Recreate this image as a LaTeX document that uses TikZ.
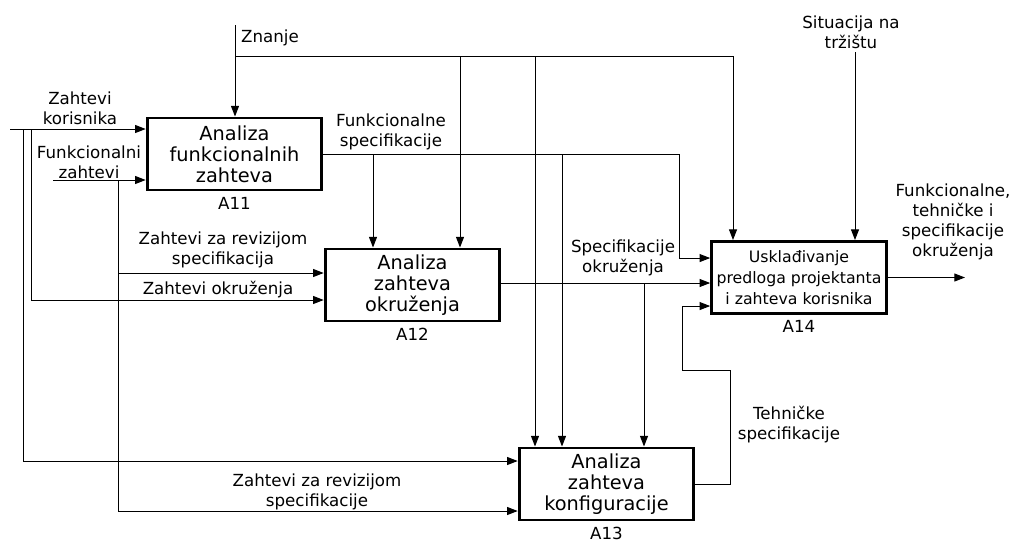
\documentclass[tikz,border=0pt]{standalone}
\usepackage{fontspec}
\setmainfont{DejaVu Sans}
\usepackage{tikz}
\usetikzlibrary{positioning, arrows.meta}
\tikzset{
  actbox/.style={
    rectangle,
    draw=black,
    line width=2.2pt,
    minimum width=131pt,
    minimum height=54pt,
    align=center,
    font=\fontsize{14.5}{15.75}\selectfont,
    inner sep=3pt
  },
  flowarrow/.style={
    -{Triangle[length=8pt,width=6pt]},
    line width=0.75pt
  },
  flowlabel/.style={
    font=\fontsize{12.5}{15}\selectfont,
    align=center,
    inner sep=1pt
  },
  codelabel/.style={
    font=\fontsize{12.5}{14}\selectfont,
    inner sep=1pt
  }
}

\begin{document}
\begin{tikzpicture}[x=0.75pt, y=-0.75pt]
  \useasboundingbox (0,0) rectangle (1014,544);

  % activity boxes
  \node[actbox] (a11) at (234.5,154) {Analiza\\funkcionalnih\\zahteva};
  \node[actbox] (a12) at (412.5,285) {Analiza\\zahteva\\okruženja};
  \node[actbox] (a13) at (606.5,484) {Analiza\\zahteva\\konfiguracije};
  \node[actbox, font=\fontsize{11.8}{15.75}\selectfont] (a14) at (799,277.5)
    {Usklađivanje\\predloga projektanta\\i zahteva korisnika};
  \node[codelabel, below=3pt of a11] (a11c) {A11};
  \node[codelabel, below=3pt of a12] (a12c) {A12};
  \node[codelabel, below=3pt of a13] (a13c) {A13};
  \node[codelabel, below=3pt of a14] (a14c) {A14};

  % free ends and junctions
  \coordinate (zkIn) at (10,129);
  \coordinate (fzIn) at (53,180);
  \coordinate (znIn) at (235,25);
  \coordinate (stIn) at (855,52);
  \coordinate (out) at (965,277.5);
  \coordinate (jzk1) at (23,129);
  \coordinate (jzk2) at (31,129);
  \coordinate (jfz) at (118,180);
  \coordinate (jfz2) at (118,273);
  \coordinate (jzn) at (235,56);
  \coordinate (jzn1) at (460,56);
  \coordinate (jzn2) at (535,56);
  \coordinate (jfs1) at (373,154);
  \coordinate (jfs2) at (562,154);
  \coordinate (fsBend) at (679,154);
  \coordinate (soOut) at ([yshift=1.5pt]a12.east);
  \coordinate (jso) at (644,283);
  \coordinate (tsA) at (730,370);
  \coordinate (tsB) at (682,370);

  % inputs
  \draw[flowarrow] (zkIn) -- (zkIn -| a11.west);
  \draw[flowarrow] (fzIn) -- (fzIn -| a11.west);
  \draw[flowarrow] (jzk1) |- ([yshift=17.25pt]a13.west);
  \draw[flowarrow] (jzk2) |- ([yshift=-11.25pt]a12.west);
  \draw[flowarrow] (jfz) |- ([yshift=-20.25pt]a13.west);
  \draw[flowarrow] (jfz2) -- (jfz2 -| a12.west);

  % controls
  \draw[flowarrow] (znIn) -- (znIn |- a11.north);
  \draw[flowarrow] (jzn) -| ([xshift=-49.5pt]a14.north);
  \draw[flowarrow] (jzn1) -- (jzn1 |- a12.north);
  \draw[flowarrow] (jzn2) -- (jzn2 |- a13.north);
  \draw[flowarrow] (stIn) -- (stIn |- a14.north);

  % outputs
  \draw[flowarrow] (a11.east) -- (fsBend) |- ([yshift=14.6pt]a14.west);
  \draw[flowarrow] (jfs1) -- (jfs1 |- a12.north);
  \draw[flowarrow] (jfs2) -- (jfs2 |- a13.north);
  \draw[flowarrow] (soOut) -- (soOut -| a14.west);
  \draw[flowarrow] (jso) -- (jso |- a13.north);
  \draw[flowarrow] (a13.east) -| (tsA) -- (tsB) |- ([yshift=-21.4pt]a14.west);
  \draw[flowarrow] (a14.east) -- (out);

  % arrow labels
  \node[flowlabel] (lzn) at (270,38) {Znanje};
  \node[flowlabel] (lst) at (851,32) {Situacija na\\tržištu};
  \node[flowlabel] (lzk) at (80,108) {Zahtevi\\korisnika};
  \node[flowlabel] (lfz) at (89,162) {Funkcionalni\\zahtevi};
  \node[flowlabel] (lfs) at (391,132) {Funkcionalne\\specifikacije};
  \node[flowlabel] (lzr1) at (223,250) {Zahtevi za revizijom\\specifikacija};
  \node[flowlabel] (lzo) at (218,290) {Zahtevi okruženja};
  \node[flowlabel] (lzr2) at (317,492) {Zahtevi za revizijom\\specifikacije};
  \node[flowlabel] (lso) at (623,258) {Specifikacije\\okruženja};
  \node[flowlabel] (lts) at (789,425) {Tehničke\\specifikacije};
  \node[flowlabel] (lout) at (953,222)
    {Funkcionalne,\\tehničke i\\specifikacije\\okruženja};
\end{tikzpicture}
\end{document}
